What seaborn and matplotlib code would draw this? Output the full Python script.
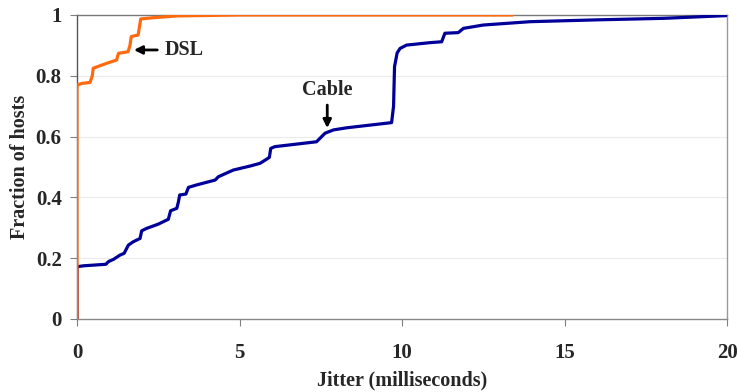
import matplotlib
matplotlib.use("Agg")
import matplotlib.pyplot as plt
import seaborn as sns
import pandas as pd

# ---- data ----
dsl_x = [0.0, 0.0, 0.01, 0.15, 0.40, 0.47, 0.50, 0.91, 1.22, 1.25, 1.28, 1.57, 1.63, 1.67,
         1.88, 1.92, 1.96, 2.34, 3.07, 5.0, 13.4]
dsl_y = [0.0, 0.765, 0.77, 0.775, 0.778, 0.80, 0.825, 0.841, 0.852, 0.865, 0.874, 0.879, 0.90,
         0.929, 0.934, 0.96, 0.987, 0.991, 0.997, 1.0, 1.0]

cable_x = [0.0, 0.0, 0.20, 0.89, 0.95, 0.99, 1.12, 1.32, 1.45, 1.58, 1.73, 1.94, 1.99, 2.14,
           2.50, 2.81, 2.88, 3.07, 3.12, 3.16, 3.35, 3.43, 3.68, 4.25, 4.35, 4.81, 5.32,
           5.63, 5.84, 5.92, 5.96, 6.09, 7.37, 7.63, 7.89, 8.30, 9.68, 9.74, 9.77, 9.85,
           9.94, 10.14, 10.86, 11.22, 11.32, 11.73, 11.89, 12.5, 13.94, 15.99, 18.04, 19.99]
cable_y = [0.0, 0.172, 0.175, 0.18, 0.187, 0.19, 0.196, 0.21, 0.216, 0.243, 0.254, 0.265, 0.29,
           0.298, 0.312, 0.328, 0.356, 0.364, 0.385, 0.408, 0.411, 0.433, 0.441, 0.457, 0.468,
           0.49, 0.503, 0.512, 0.526, 0.532, 0.561, 0.567, 0.583, 0.611, 0.622, 0.629, 0.646,
           0.70, 0.83, 0.875, 0.89, 0.901, 0.909, 0.912, 0.94, 0.942, 0.956, 0.967, 0.978,
           0.984, 0.989, 0.998]

x_ticks = [0, 5, 10, 15, 20]
y_ticks = [0, 0.2, 0.4, 0.6, 0.8, 1.0]
y_tick_labels = ["0", "0.2", "0.4", "0.6", "0.8", "1"]

series_names = ["DSL", "Cable"]
series_colors = ["#FF6A10", "#000099"]

df = pd.concat([
    pd.DataFrame({"jitter": dsl_x, "frac": dsl_y, "series": "DSL", "order": range(len(dsl_x))}),
    pd.DataFrame({"jitter": cable_x, "frac": cable_y, "series": "Cable", "order": range(len(cable_x))}),
])

sns.set_style("white")
plt.rcParams["font.family"] = ["Liberation Serif", "DejaVu Serif"]

fig = plt.figure(figsize=(7.38, 3.92), dpi=100)
ax = fig.add_axes([77 / 738, 1 - 319 / 392, 650 / 738, 304 / 392])

for y in y_ticks[1:-1]:
    ax.axhline(y, color="#ebebeb", lw=0.8, zorder=0)

sns.lineplot(data=df, x="jitter", y="frac", hue="series", palette=dict(zip(series_names, series_colors)),
             hue_order=series_names[::-1], sort=False, estimator=None, units="series",
             lw=2.3, ax=ax, legend=False, zorder=3)

ax.set_xlim(0, 20)
ax.set_ylim(0, 1)
ax.set_xticks(x_ticks)
ax.set_xticklabels([str(t) for t in x_ticks])
ax.set_yticks(y_ticks)
ax.set_yticklabels(y_tick_labels)
for lab in ax.get_xticklabels() + ax.get_yticklabels():
    lab.set_fontweight("bold")
    lab.set_fontsize(15)
ax.tick_params(axis="both", which="major", length=5, width=0.8, color="#808080", direction="out",
               bottom=True, left=True)
ax.tick_params(axis="y", pad=6)
ax.tick_params(axis="x", pad=12)

for side, col in [("left", "#555555"), ("bottom", "#888888"), ("top", "#777777"), ("right", "#999999")]:
    ax.spines[side].set_visible(True)
    ax.spines[side].set_color(col)
    ax.spines[side].set_linewidth(1.0)

ax.set_xlabel("Jitter (milliseconds)", fontsize=14.5, fontweight="bold", labelpad=6)
ax.set_ylabel("Fraction of hosts", fontsize=14.5, fontweight="bold", labelpad=4)

ax.annotate("DSL", xy=(1.75, 0.885), xytext=(2.7, 0.885), fontsize=14.5, fontweight="bold",
            va="center", ha="left",
            arrowprops=dict(arrowstyle="-|>", color="black", lw=2.0, mutation_scale=12,
                            shrinkA=3, shrinkB=0))
ax.annotate("Cable", xy=(7.7, 0.628), xytext=(7.7, 0.752), fontsize=14.5, fontweight="bold",
            va="center", ha="center",
            arrowprops=dict(arrowstyle="-|>", color="black", lw=2.0, mutation_scale=12,
                            shrinkA=1, shrinkB=0))

fig.savefig("out.png", dpi=100)
